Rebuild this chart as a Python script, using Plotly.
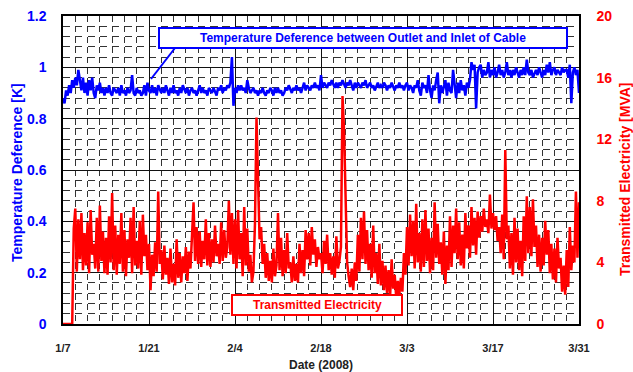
import pandas as pd
import plotly.graph_objects as go

# ---------------- data ----------------
start_date = "2008-01-07"
samples_per_day = 4

temp_diff_k = [
    0.88, 0.86, 0.91, 0.89,  0.93, 0.90, 0.95, 0.92,  0.96, 0.93, 0.99, 0.94,  0.91, 0.96, 0.90, 0.94,
    0.89, 0.95, 0.91, 0.96,  0.90, 0.88, 0.93, 0.91,  0.94, 0.90, 0.92, 0.89,  0.92, 0.90, 0.93, 0.90,
    0.89, 0.92, 0.91, 0.90,  0.92, 0.89, 0.93, 0.90,  0.91, 0.89, 0.92, 0.90,  0.91, 0.97, 0.90, 0.89,
    0.92, 0.90, 0.91, 0.89,  0.90, 0.93, 0.89, 0.94,  0.91, 0.90, 0.93, 0.90,  0.92, 0.89, 0.93, 0.91,
    0.90, 0.92, 0.90, 0.93,  0.91, 0.89, 0.92, 0.90,  0.93, 0.90, 0.91, 0.89,  0.92, 0.90, 0.93, 0.91,
    0.90, 0.92, 0.89, 0.91,  0.92, 0.90, 0.91, 0.89,  0.91, 0.93, 0.90, 0.92,  0.90, 0.91, 0.89, 0.92,
    0.91, 0.90, 0.92, 0.90,  0.89, 0.92, 0.91, 0.93,  0.90, 0.92, 0.91, 0.93,  0.92, 0.94, 1.04, 0.85,
    0.92, 0.90, 0.93, 0.91,  0.93, 0.91, 0.92, 0.90,  0.95, 0.92, 0.90, 0.91,  0.92, 0.90, 0.91, 0.89,
    0.91, 0.90, 0.92, 0.90,  0.89, 0.91, 0.90, 0.92,  0.91, 0.89, 0.92, 0.90,  0.92, 0.90, 0.91, 0.89,
    0.90, 0.92, 0.91, 0.93,  0.91, 0.90, 0.92, 0.91,  0.93, 0.91, 0.92, 0.90,  0.92, 0.94, 0.91, 0.93,
    0.92, 0.91, 0.93, 0.92,  0.94, 0.92, 0.93, 0.91,  0.97, 0.92, 0.94, 0.93,  0.92, 0.94, 0.93, 0.95,
    0.93, 0.92, 0.94, 0.92,  0.94, 0.93, 0.95, 0.93,  0.92, 0.94, 0.93, 0.95,  0.93, 0.91, 0.94, 0.92,
    0.94, 0.93, 0.92, 0.94,  0.93, 0.95, 0.92, 0.93,  0.94, 0.92, 0.93, 0.91,  0.93, 0.94, 0.92, 0.93,
    0.92, 0.94, 0.93, 0.91,  0.93, 0.92, 0.94, 0.92,  0.91, 0.93, 0.92, 0.94,  0.92, 0.93, 0.91, 0.93,
    0.94, 0.91, 0.93, 0.92,  0.90, 0.93, 0.92, 0.95,  0.91, 0.89, 0.94, 0.92,  0.93, 0.90, 0.97, 0.91,
    0.88, 0.93, 0.91, 0.95,  0.98, 0.86, 0.93, 0.90,  0.92, 0.95, 0.89, 0.94,  0.91, 0.90, 0.99, 0.92,
    0.88, 0.94, 0.90, 0.95,  0.91, 0.93, 0.89, 0.94,  0.92, 0.95, 1.02, 0.99,  1.01, 0.84, 0.98, 1.00,
    1.01, 0.96, 0.99, 0.97,  0.98, 1.02, 0.96, 0.99,  0.97, 1.00, 0.96, 0.98,  1.01, 0.97, 0.99, 0.96,
    0.98, 1.02, 0.97, 0.99,  0.96, 0.99, 0.97, 1.00,  0.98, 0.96, 0.99, 0.97,  1.00, 0.97, 1.03, 0.98,
    0.97, 0.99, 0.96, 0.98,  0.99, 0.97, 1.00, 0.98,  0.96, 0.99, 0.97, 1.01,  0.98, 1.02, 0.97, 0.99,
    1.00, 0.97, 0.99, 0.98,  0.97, 1.00, 0.98, 0.99,  0.99, 0.96, 1.01, 0.86,  0.98, 1.00, 0.97, 0.99,
    0.90,
]

transmitted_mva = [
    0.0, 0.0, 0.0, 0.0,  0.0, 0.0, 0.0, 6.2,  7.5, 3.4, 6.8, 4.2,  7.2, 3.5, 5.9, 3.8,
    6.6, 3.3, 7.4, 4.5,  5.2, 3.6, 6.9, 3.4,  7.7, 4.1, 6.0, 3.3,  5.6, 3.2, 7.0, 4.0,
    8.5, 3.5, 6.4, 3.2,  5.8, 3.9, 7.2, 3.4,  6.1, 3.1, 5.5, 4.3,  6.9, 3.3, 7.6, 3.8,
    5.4, 3.6, 6.7, 3.2,  7.1, 4.4, 5.8, 3.5,  5.2, 2.2, 4.5, 3.1,  5.3, 3.4, 8.6, 3.9,
    4.8, 2.9, 5.1, 3.2,  4.3, 2.6, 4.9, 2.7,  3.9, 2.5, 5.5, 3.0,  4.6, 2.7, 4.4, 3.3,
    5.0, 2.8, 4.7, 3.6,  5.6, 7.9, 4.1, 6.3,  3.9, 6.0, 3.7, 5.4,  4.2, 6.8, 3.8, 5.9,
    3.7, 5.5, 4.0, 6.4,  4.4, 5.2, 3.9, 6.6,  4.1, 6.1, 4.3, 5.0,  8.0, 4.5, 7.2, 3.9,
    6.8, 3.6, 7.4, 4.2,  5.9, 3.1, 7.6, 3.8,  6.2, 3.4, 4.5, 2.7,  3.4, 6.5, 13.4, 9.0,
    5.5, 6.3, 3.9, 5.2,  3.0, 4.6, 2.8, 4.1,  2.7, 4.9, 3.1, 3.8,  7.2, 3.5, 5.6, 3.1,
    4.8, 3.3, 5.9, 3.6,  4.0, 2.7, 4.4, 2.8,  3.9, 2.7, 5.2, 3.3,  4.8, 3.1, 6.1, 4.2,
    5.9, 3.8, 6.3, 4.5,  5.5, 3.7, 5.0, 4.2,  4.6, 3.3, 5.4, 3.9,  5.8, 3.5, 4.6, 3.2,
    4.4, 3.0, 5.7, 3.6,  4.1, 5.0, 14.8, 12.6,  8.5, 4.0, 3.1, 2.4,  3.6, 2.2, 4.0, 2.8,
    5.8, 3.4, 6.9, 4.2,  7.3, 3.9, 6.1, 3.5,  5.2, 3.0, 6.4, 3.3,  4.6, 2.6, 5.2, 2.5,
    4.1, 2.2, 3.8, 2.0,  3.5, 1.8, 4.2, 2.3,  3.2, 1.7, 2.8, 1.9,  3.0, 2.1, 4.6, 3.2,
    6.3, 3.8, 7.1, 4.4,  6.7, 3.6, 7.8, 4.0,  5.9, 3.4, 6.8, 3.7,  7.4, 4.1, 6.2, 3.3,
    5.6, 3.5, 7.9, 4.3,  6.5, 3.9, 5.3, 3.2,  6.0, 2.6, 5.1, 3.5,  7.0, 3.7, 6.4, 4.6,
    7.5, 4.2, 6.6, 3.8,  5.8, 3.6, 7.2, 4.9,  6.4, 4.3, 7.6, 5.1,  6.9, 4.5, 7.3, 5.6,
    7.0, 6.0, 7.5, 6.3,  6.8, 5.9, 8.4, 6.2,  7.2, 6.1, 7.0, 5.4,  6.3, 4.6, 7.1, 4.2,
    11.3, 5.5, 6.4, 3.6,  5.9, 3.2, 6.9, 4.0,  6.2, 3.5, 5.4, 3.1,  7.0, 4.1, 8.3, 4.6,
    7.6, 4.4, 8.1, 5.0,  6.4, 3.7, 5.8, 3.4,  5.6, 3.8, 6.7, 4.5,  6.1, 3.3, 5.2, 2.9,
    4.9, 2.7, 5.6, 3.6,  4.3, 2.1, 3.8, 1.9,  4.8, 2.4, 6.3, 3.5,  5.1, 4.0, 8.6, 4.3,
    7.9,
]

x_tick_dates = ["2008-01-07", "2008-01-21", "2008-02-04", "2008-02-18",
                "2008-03-03", "2008-03-17", "2008-03-31"]
x_tick_labels = ["1/7", "1/21", "2/4", "2/18", "3/3", "3/17", "3/31"]
left_tick_vals = [0, 0.2, 0.4, 0.6, 0.8, 1.0, 1.2]
left_tick_labels = ["0", "0.2", "0.4", "0.6", "0.8", "1", "1.2"]
right_tick_vals = [0, 4, 8, 12, 16, 20]
right_tick_labels = ["0", "4", "8", "12", "16", "20"]

series_blue_name = "Temperature Deference between Outlet and Inlet of Cable"
series_red_name = "Transmitted Electricity"

# ---------------- figure ----------------
times = pd.date_range(start_date, periods=len(temp_diff_k),
                      freq=f"{24 // samples_per_day}h")

BLUE = "#0000ff"
RED = "#ff0000"
FONT = "Liberation Sans, Arial, sans-serif"

W, H = 633, 372
L, R, T, B = 63, 54, 16, 48
PW, PH = W - L - R, H - T - B


def px(xp):
    return (xp - L) / PW


def py(yp):
    return (H - B - yp) / PH


fig = go.Figure()
fig.add_trace(go.Scatter(x=times, y=transmitted_mva, yaxis="y2", mode="lines",
                         line=dict(color=RED, width=2.5), name=series_red_name))
fig.add_trace(go.Scatter(x=times, y=temp_diff_k, yaxis="y", mode="lines",
                         line=dict(color=BLUE, width=2.5), name=series_blue_name))

DAY_MS = 86400000
fig.update_layout(
    width=W, height=H,
    margin=dict(l=L, r=R, t=T, b=B, pad=0, autoexpand=False),
    paper_bgcolor="white", plot_bgcolor="white",
    showlegend=False,
    font=dict(family=FONT),
    xaxis=dict(
        range=[x_tick_dates[0], x_tick_dates[-1]],
        automargin=False,
        tickmode="array", tickvals=x_tick_dates, ticktext=x_tick_labels,
        tickfont=dict(size=11, color="#222", weight="bold"),
        ticklabelstandoff=13,
        showgrid=True, gridcolor="#111", gridwidth=1,
        minor=dict(tickmode="linear", tick0=x_tick_dates[0], dtick=2 * DAY_MS,
                   showgrid=True, gridcolor="#333", gridwidth=1,
                   griddash="6px,4.3px"),
        showline=True, linecolor="black", linewidth=1.5, mirror=True,
        zeroline=False,
    ),
    yaxis=dict(
        range=[0, 1.2],
        automargin=False,
        tickmode="array", tickvals=left_tick_vals, ticktext=left_tick_labels,
        tickfont=dict(size=14, color=BLUE, weight="bold"),
        ticklabelstandoff=12,
        showgrid=True, gridcolor="#111", gridwidth=1,
        minor=dict(tickmode="linear", tick0=0, dtick=0.04,
                   showgrid=True, gridcolor="#333", gridwidth=1,
                   griddash="7px,5.3px"),
        showline=True, linecolor="black", linewidth=1.5, mirror=True,
        zeroline=False,
    ),
    yaxis2=dict(
        range=[0, 20], overlaying="y", side="right",
        automargin=False,
        tickmode="array", tickvals=right_tick_vals, ticktext=right_tick_labels,
        tickfont=dict(size=14, color=RED, weight="bold"),
        ticklabelstandoff=13,
        showgrid=False, zeroline=False,
        showline=True, linecolor="black", linewidth=1.5,
    ),
)

# axis titles as annotations
fig.add_annotation(text="Date (2008)", xref="paper", yref="paper",
                   x=px(321), y=py(365), xanchor="center", yanchor="middle",
                   showarrow=False, font=dict(size=12, color="#222", weight="bold"))
fig.add_annotation(text="Temperature Deference [K]", textangle=-90,
                   xref="paper", yref="paper", x=px(17), y=py(173),
                   xanchor="center", yanchor="middle", showarrow=False,
                   font=dict(size=14, color=BLUE, weight="bold"))
fig.add_annotation(text="Transmitted Electricity [MVA]", textangle=-90,
                   xref="paper", yref="paper", x=px(625), y=py(180),
                   xanchor="center", yanchor="middle", showarrow=False,
                   font=dict(size=14, color=RED, weight="bold"))

# legend-like boxes
fig.add_shape(type="line", xref="paper", yref="paper",
              x0=px(175), y0=py(48), x1=px(151), y1=py(79),
              line=dict(color=BLUE, width=2))
fig.add_shape(type="rect", xref="paper", yref="paper",
              x0=px(159), x1=px(567), y0=py(48), y1=py(28),
              fillcolor="white", line=dict(color=BLUE, width=2))
fig.add_annotation(text=series_blue_name, xref="paper", yref="paper",
                   x=px(363), y=py(38), xanchor="center", yanchor="middle",
                   showarrow=False, font=dict(size=12, color=BLUE, weight="bold"))
fig.add_shape(type="rect", xref="paper", yref="paper",
              x0=px(232), x1=px(402), y0=py(315), y1=py(295),
              fillcolor="white", line=dict(color=RED, width=2))
fig.add_annotation(text=series_red_name, xref="paper", yref="paper",
                   x=px(317), y=py(305), xanchor="center", yanchor="middle",
                   showarrow=False, font=dict(size=12, color=RED, weight="bold"))

fig.write_html("out.html")
